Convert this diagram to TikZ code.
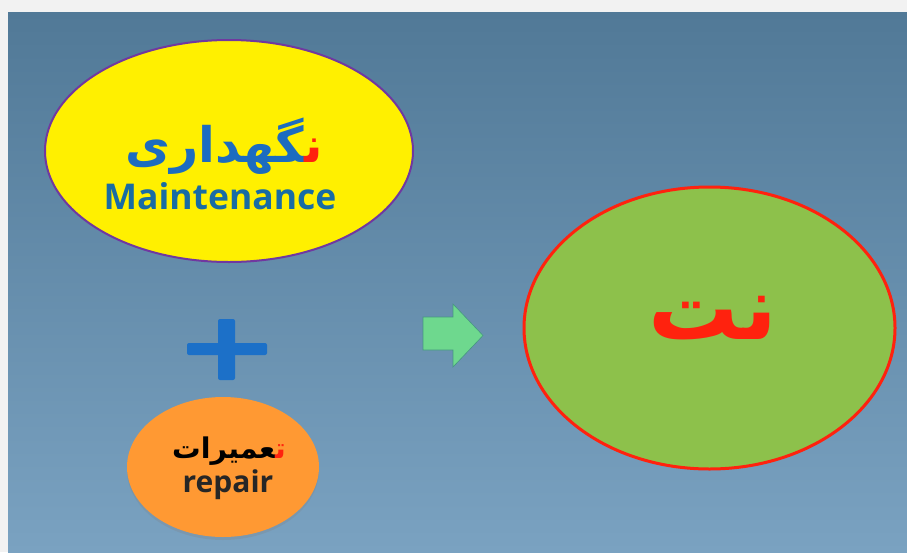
\documentclass[tikz,border=0pt]{standalone}
\usepackage{fontspec}
\setmainfont{Open Sans}
\newfontfamily\farsifont[Script=Arabic]{DejaVu Sans}
\TeXXeTstate=1
\usetikzlibrary{positioning,shapes.geometric,shadows}

\definecolor{pagegray}{RGB}{242,242,242}
\definecolor{bgtop}{RGB}{81,121,151}
\definecolor{bgbot}{RGB}{122,162,193}
\definecolor{keepyellow}{RGB}{255,240,0}
\definecolor{keeppurple}{RGB}{112,56,160}
\definecolor{keepblue}{RGB}{28,108,192}
\definecolor{engteal}{RGB}{24,108,164}
\definecolor{mixgreen}{RGB}{141,193,75}
\definecolor{hotred}{RGB}{255,34,14}
\definecolor{fixorange}{RGB}{255,153,51}
\definecolor{arrowgreen}{RGB}{110,216,142}
\definecolor{arrowedge}{RGB}{70,150,130}
\definecolor{plusblue}{RGB}{28,112,200}

\newcommand{\zwj}{^^^^200d}

\begin{document}
\begin{tikzpicture}[x=1pt,y=-1pt,
  blob/.style={ellipse,inner sep=0pt},
  fatxt/.style={font=\farsifont\bfseries,inner sep=0pt},
  entxt/.style={font=\bfseries,inner sep=0pt},
  plusbar/.style={fill=plusblue,rounded corners=2pt,inner sep=0pt},
]
  \useasboundingbox (0,0) rectangle (907,552);
  \fill[pagegray] (0,0) rectangle (907,552);
  \shade[top color=bgtop,bottom color=bgbot] (8,12) rectangle (907,552);

  % left: maintenance + repair (word pieces typed in visual order)
  \node[blob,draw=keeppurple,line width=2pt,fill=keepyellow,
        minimum width=368,minimum height=222] (keep) at (229,151) {};
  \node[fatxt,font=\farsifont\bfseries\fontsize{49}{56}\selectfont] (keepfa) at (224,146)
    {\textcolor{keepblue}{\zwj گهداری}\textcolor{hotred}{ن\zwj}};
  \node[entxt,text=engteal,font=\bfseries\fontsize{35.5}{40}\selectfont] (keepen) at (220,196) {Maintenance};

  \node[plusbar,minimum width=80,minimum height=12] (plush) at (227,349) {};
  \node[plusbar,minimum width=17,minimum height=61] (plusv) at (226.5,349.5) {};

  \node[blob,fill=fixorange,minimum width=192,minimum height=140,
        drop shadow={shadow xshift=0pt,shadow yshift=-3pt,opacity=0.25}] (fix) at (223,467) {};
  \node[fatxt,font=\farsifont\bfseries\fontsize{28.5}{32}\selectfont] (fixfa) at (229,451)
    {\textcolor{black}{\zwj عمیرات}\textcolor{hotred}{ت\zwj}};
  \node[entxt,text=black!85,font=\bfseries\fontsize{30}{34}\selectfont] (fixen) at (228,485) {repair};

  % arrow and result
  \coordinate (arrow) at (453,335.5);
  \filldraw[fill=arrowgreen,draw=arrowedge,line width=0.6pt]
    (423,317) -- (453,317) -- (453,304) -- (483,335.5) -- (453,367)
    -- (453,350) -- (423,350) -- cycle;

  \node[blob,draw=hotred,line width=3pt,fill=mixgreen,
        minimum width=371,minimum height=282] (net) at (709.5,328) {};
  \node[fatxt,text=hotred,font=\farsifont\bfseries\fontsize{90}{100}\selectfont] (netfa) at (713,318)
    {\beginR نت\endR};
\end{tikzpicture}
\end{document}
